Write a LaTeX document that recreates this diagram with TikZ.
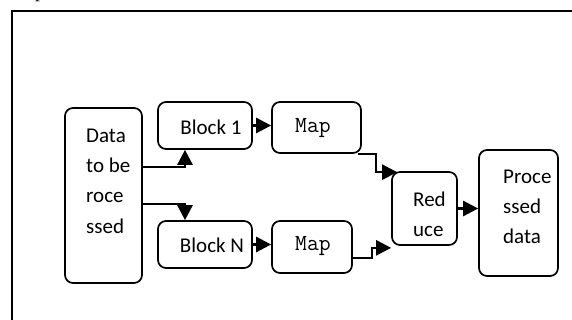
\documentclass[tikz,border=0pt]{standalone}
\usepackage{fontspec}
\setmainfont{Carlito}
\newfontfamily\serf{Liberation Serif}
\usetikzlibrary{arrows.meta}
\begin{document}
\begin{tikzpicture}[x=1pt,y=-1pt,
  box/.style={draw, line width=1.7pt, rounded corners=8pt, inner sep=0pt},
  lbl/.style={inner sep=0pt, font=\fontsize{21}{30.3}\selectfont, align=left},
  mlbl/.style={inner sep=0pt, font=\ttfamily\fontsize{23}{26}\selectfont},
  arr/.style={line width=2.6pt, -{Triangle[length=15pt,width=15pt]}}]
\useasboundingbox (0,0) rectangle (572,320);
\clip (0,0) rectangle (572,320);
\fill[white] (0,0) rectangle (572,320);
% outer frame
\draw[line width=1.6pt] (12,340) -- (12,11) -- (590,11);
\node[inner sep=0pt, font=\serf\fontsize{20}{24}\selectfont, anchor=base] (cap) at (40,-2) {p};
% boxes
\node[box, minimum width=77pt, minimum height=175pt] (data) at (103.5,195.5) {};
\node[box, minimum width=94pt, minimum height=47pt] (b1) at (205,125.5) {};
\node[box, minimum width=94pt, minimum height=47pt] (bn) at (205,244.5) {};
\node[box, minimum width=89pt, minimum height=51pt] (m1) at (316.5,127.5) {};
\node[box, minimum width=80pt, minimum height=52pt] (m2) at (312,247) {};
\node[box, minimum width=65pt, minimum height=73pt] (rd) at (424.5,208.5) {};
\node[box, minimum width=79pt, minimum height=126pt] (pd) at (518.5,213) {};
% texts
\node[lbl, anchor=west] (tdata) at (86,181) {Data\\to be\\roce\\ssed};
\node[lbl] (tb1) at (211,127) {Block 1};
\node[lbl] (tbn) at (212,245) {Block N};
\node[mlbl] (tm1) at (313,128) {Map};
\node[mlbl] (tm2) at (313,246) {Map};
\node[lbl, anchor=west] (trd) at (413,214) {Red\\uce};
\node[lbl, anchor=west] (tpd) at (503,207) {Proce\\ssed\\data};
% connectors
\draw[arr] ([yshift=28.5pt]data.east) -| ([xshift=-20pt]b1.south);
\draw[arr] ([yshift=-8.5pt]data.east) -| ([xshift=-20pt]bn.north);
\draw[arr] (b1.east) -- (b1.east -| m1.west);
\draw[arr] (bn.east) -- (bn.east -| m2.west);
\draw[arr] ([xshift=-4pt]m1.south east) -| ([xshift=-15pt,yshift=-1pt]rd.north west) -- ([xshift=6pt,yshift=-1pt]rd.north west);
\draw[arr] ([yshift=-11pt]m2.east) -| ([xshift=-19pt,yshift=-2pt]rd.south west) -- ([yshift=-2pt]rd.south west);
\draw[arr] (rd.east) -- (rd.east -| pd.west);
\end{tikzpicture}
\end{document}
